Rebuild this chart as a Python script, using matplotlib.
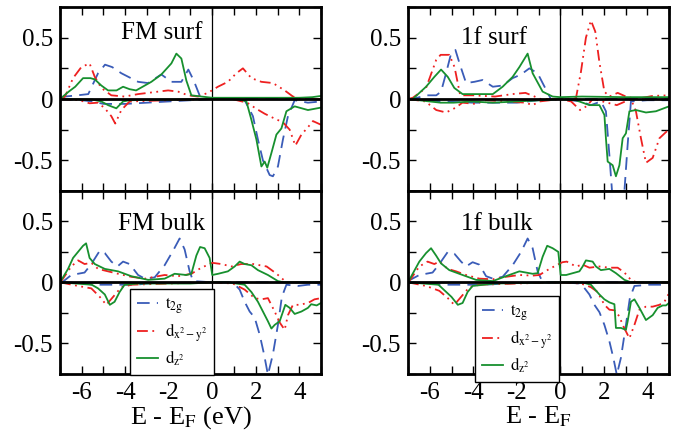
import numpy as np
import matplotlib
matplotlib.use("Agg")
import matplotlib.pyplot as plt
from matplotlib.ticker import MultipleLocator, FixedLocator

plt.rcParams['font.family'] = ['Liberation Serif', 'DejaVu Serif']
plt.rcParams['mathtext.fontset'] = 'stix'
plt.rcParams['axes.unicode_minus'] = False

# ---- FM surf ----
fs_t2g_up_e = [-7, -6.77, -6.2, -5.7, -5.25, -4.93, -4.6, -4.18, -3.41, -2.95, -2.34, -1.88, -1.42, -1.1, -0.85, -0.56, -0.35, 0, 1, 2, 3, 4, 5]
fs_t2g_up_v = [0, 0.02, 0.03, 0.04, 0.21, 0.28, 0.26, 0.21, 0.14, 0.13, 0.2, 0.14, 0.14, 0.24, 0.15, 0.02, 0.0, 0.0, 0.0, 0.0, 0.0, 0.0, 0.0]
fs_t2g_dn_e = [-7, -6, -5.5, -5, -4, -3, -2, -1, 0, 0.8, 1.49, 1.87, 2.1, 2.33, 2.64, 2.79, 3.02, 3.25, 3.48, 3.79, 4.4, 5]
fs_t2g_dn_v = [0, -0.01, -0.02, -0.04, -0.04, -0.03, -0.02, -0.01, 0, 0, -0.01, -0.14, -0.33, -0.5, -0.62, -0.63, -0.55, -0.33, -0.14, -0.01, -0.03, -0.02]
fs_x2_up_e = [-7, -6.77, -6.4, -6.02, -5.64, -5.4, -5.1, -4.64, -4.03, -3.41, -2.49, -2.03, -1.57, -1.11, -0.66, -0.2, 0.26, 0.72, 1.11, 1.41, 1.8, 2.26, 2.79, 3.33, 3.71, 4.2, 5]
fs_x2_up_v = [0, 0.02, 0.17, 0.26, 0.29, 0.18, 0.09, 0.03, 0.02, 0.04, 0.06, 0.07, 0.06, 0.03, 0.02, 0.05, 0.1, 0.14, 0.21, 0.25, 0.17, 0.14, 0.13, 0.07, 0.02, 0.0, 0.0]
fs_x2_dn_e = [-7, -6.1, -5.64, -5.25, -4.94, -4.64, -4.46, -4.18, -3.8, -2, 0, 0.9, 1.6, 2.03, 2.41, 2.87, 3.25, 3.56, 3.82, 4.1, 4.4, 4.63, 5]
fs_x2_dn_v = [0, -0.01, -0.035, -0.03, -0.076, -0.14, -0.2, -0.09, -0.02, -0.01, 0, 0, -0.03, -0.08, -0.12, -0.16, -0.19, -0.25, -0.38, -0.29, -0.23, -0.18, -0.21]
fs_z2_up_e = [-7, -6.6, -6.3, -5.94, -5.6, -5.4, -5.1, -4.79, -4.4, -4.1, -3.8, -3.5, -2.8, -2.34, -1.88, -1.65, -1.42, -1.19, -0.96, -0.5, 0, 2, 4, 4.6, 5]
fs_z2_up_v = [0, 0.06, 0.1, 0.17, 0.17, 0.16, 0.11, 0.07, 0.07, 0.1, 0.08, 0.07, 0.14, 0.2, 0.29, 0.37, 0.33, 0.15, 0.03, 0.02, 0.01, 0.01, 0.01, 0.015, 0.025]
fs_z2_dn_e = [-7, -5.5, -5.1, -4.79, -4.41, -4.1, -3.8, -2, 0, 1.2, 1.57, 1.8, 2.03, 2.26, 2.41, 2.53, 2.72, 2.95, 3.18, 3.41, 3.79, 4.4, 5]
fs_z2_dn_v = [0, -0.005, -0.02, -0.05, -0.076, -0.02, -0.01, -0.005, 0, 0, -0.02, -0.17, -0.33, -0.55, -0.51, -0.56, -0.44, -0.29, -0.24, -0.10, -0.06, -0.09, -0.07]

# ---- 1f surf ----
xs_t2g_up_e = [-7, -6.78, -6.17, -5.7, -5.48, -5.25, -5.02, -4.82, -4.63, -4.33, -3.95, -3.57, -3.1, -2.65, -2.19, -1.8, -1.42, -1.04, -0.81, -0.43, 0, 2, 5]
xs_t2g_up_v = [0, 0.0, 0.03, 0.03, 0.06, 0.21, 0.37, 0.4, 0.29, 0.13, 0.14, 0.155, 0.1, 0.11, 0.17, 0.2, 0.25, 0.21, 0.13, 0.0, 0.0, 0.0, 0.0]
xs_t2g_dn_e = [-7, -6, -5.5, -4, -2, -1, 0, 0.95, 1.41, 1.87, 2.1, 2.26, 2.38, 2.65, 2.95, 3.1, 3.25, 4, 5]
xs_t2g_dn_v = [0, -0.01, -0.02, -0.03, -0.03, -0.01, 0, -0.02, -0.05, -0.02, -0.1, -0.46, -0.75, -0.95, -0.75, -0.37, -0.02, -0.01, -0.01]
xs_x2_up_e = [-7, -6.78, -6.17, -5.7, -5.5, -5.1, -4.86, -4.6, -4.0, -3.0, -2.2, -1.6, -0.9, 0, 0.72, 0.95, 1.18, 1.41, 1.61, 1.8, 2.03, 2.26, 2.64, 3.02, 3.48, 4.25, 5]
xs_x2_up_v = [0, 0.01, 0.09, 0.32, 0.36, 0.36, 0.26, 0.03, 0.03, 0.02, 0.04, 0.05, 0.0, 0.0, 0.005, 0.22, 0.5, 0.64, 0.55, 0.3, 0.06, 0.02, 0.05, 0.02, 0.0, 0.025, 0.03]
xs_x2_dn_e = [-7, -6.2, -5.7, -5.25, -4.8, -4.5, -3.9, -3.4, -2.5, -1.6, -1.27, -0.95, 0, 0.5, 0.91, 1.2, 1.5, 2.6, 3.25, 3.48, 3.71, 3.94, 4.25, 4.56, 4.86, 5]
xs_x2_dn_v = [0, -0.02, -0.09, -0.11, -0.07, -0.03, -0.04, -0.01, -0.02, -0.03, -0.05, -0.02, 0, -0.02, -0.09, -0.06, 0.0, -0.05, 0.0, -0.1, -0.32, -0.52, -0.48, -0.32, -0.27, -0.25]
xs_z2_up_e = [-7, -6.78, -6.17, -5.79, -5.48, -5.17, -4.87, -4.49, -3.8, -3.1, -2.65, -2.19, -1.88, -1.5, -1.27, -0.81, -0.35, 0, 1, 3, 5]
xs_z2_up_v = [0, 0.0, 0.1, 0.18, 0.24, 0.18, 0.09, 0.04, 0.04, 0.04, 0.1, 0.18, 0.26, 0.37, 0.21, 0.06, 0.02, 0.015, 0.02, 0.015, 0.015]
xs_z2_dn_e = [-7, -6.5, -5.5, -4.9, -4.1, -3.1, -2.0, -0.9, 0, 0.72, 1.34, 1.8, 2.03, 2.1, 2.18, 2.41, 2.56, 2.72, 2.87, 3.02, 3.18, 3.48, 3.94, 4.4, 5]
xs_z2_dn_v = [0, -0.01, -0.03, -0.03, -0.02, -0.03, -0.02, -0.01, 0, -0.01, -0.05, -0.05, -0.13, -0.32, -0.51, -0.54, -0.63, -0.54, -0.32, -0.28, -0.1, -0.09, -0.11, -0.1, -0.06]

# ---- FM bulk ----
fb_t2g_up_e = [-7, -6.9, -6.48, -5.87, -5.56, -5.17, -4.94, -4.64, -4.36, -4.1, -3.8, -3.41, -3.1, -2.65, -2.19, -1.8, -1.5, -1.27, -1.04, -0.88, 0, 5]
fb_t2g_up_v = [0, 0.0, 0.06, 0.08, 0.15, 0.26, 0.24, 0.17, 0.13, 0.17, 0.15, 0.06, 0.03, 0.04, 0.14, 0.26, 0.36, 0.27, 0.09, 0.01, 0.0, 0.0]
fb_t2g_dn_e = [-7, -6, -5.5, -4.5, -3.5, -3, -2, 0, 0.95, 1.26, 1.49, 1.72, 1.95, 2.18, 2.38, 2.56, 2.79, 3.02, 3.2, 3.41, 3.94, 4.4, 5]
fb_t2g_dn_v = [0, -0.005, -0.02, -0.02, -0.02, -0.01, -0.005, 0, 0, -0.06, -0.16, -0.24, -0.29, -0.43, -0.59, -0.76, -0.59, -0.35, -0.12, -0.02, -0.03, -0.02, -0.02]
fb_x2_up_e = [-7, -6.9, -6.48, -6.17, -5.87, -5.56, -5.25, -4.79, -4.33, -3.72, -3.1, -2.19, -1.57, -0.96, -0.5, -0.12, 0, 0.42, 0.88, 1.33, 1.89, 2.5, 2.96, 3.28, 3.5, 5]
fb_x2_up_v = [0, 0.02, 0.13, 0.18, 0.15, 0.16, 0.11, 0.09, 0.07, 0.045, 0.03, 0.06, 0.05, 0.07, 0.12, 0.15, 0.16, 0.15, 0.13, 0.15, 0.15, 0.13, 0.07, 0.02, 0.0, 0.0]
fb_x2_dn_e = [-7, -6.17, -5.56, -5.17, -4.87, -4.56, -4.18, -3.72, -2, 0, 0.95, 1.49, 1.95, 2.26, 2.56, 2.87, 3.1, 3.33, 3.48, 3.71, 4.0, 4.4, 4.7, 5]
fb_x2_dn_v = [0, -0.03, -0.05, -0.12, -0.185, -0.12, -0.04, -0.02, -0.01, 0, -0.01, -0.06, -0.13, -0.14, -0.13, -0.24, -0.33, -0.39, -0.27, -0.185, -0.185, -0.17, -0.14, -0.13]
fb_z2_up_e = [-7, -6.63, -6.4, -6.17, -5.94, -5.8, -5.64, -5.4, -4.94, -4.33, -3.72, -2.95, -2.19, -1.73, -1.19, -0.96, -0.73, -0.56, -0.35, -0.12, 0, 0.27, 0.72, 1.03, 1.26, 1.49, 1.8, 2.1, 2.56, 3.02, 3.3, 5]
fb_z2_up_v = [0, 0.11, 0.2, 0.25, 0.3, 0.32, 0.2, 0.15, 0.11, 0.09, 0.05, 0.02, 0.03, 0.07, 0.06, 0.07, 0.22, 0.29, 0.28, 0.2, 0.06, 0.07, 0.09, 0.13, 0.17, 0.15, 0.14, 0.1, 0.06, 0.01, 0.0, 0.0]
fb_z2_dn_e = [-7, -5.54, -5.25, -4.94, -4.71, -4.49, -4.26, -4.03, -3.4, -1, 0, 0.72, 1.49, 1.8, 2.1, 2.33, 2.56, 2.72, 2.87, 3.1, 3.36, 3.56, 3.79, 4.1, 4.4, 4.55, 4.8, 5]
fb_z2_dn_v = [0, -0.02, -0.05, -0.1, -0.185, -0.16, -0.08, -0.02, -0.01, -0.01, 0, 0, -0.02, -0.08, -0.16, -0.24, -0.32, -0.38, -0.35, -0.32, -0.185, -0.21, -0.26, -0.24, -0.21, -0.18, -0.19, -0.17]

# ---- 1f bulk ----
xb_t2g_up_e = [-7, -6.9, -6.48, -5.87, -5.56, -5.17, -4.87, -4.56, -4.33, -4.03, -3.72, -3.41, -3.1, -2.65, -2.19, -1.8, -1.5, -1.27, -1.04, -0.81, 0, 5]
xb_t2g_up_v = [0, 0.02, 0.06, 0.08, 0.15, 0.25, 0.235, 0.17, 0.13, 0.165, 0.145, 0.05, 0.03, 0.045, 0.14, 0.25, 0.36, 0.28, 0.09, 0.0, 0.0, 0.0]
xb_t2g_dn_e = [-7, -6, -5.5, -4.5, -3.5, -2, 0, 0.95, 1.34, 1.57, 1.8, 2.03, 2.26, 2.44, 2.6, 2.79, 3.02, 3.2, 3.41, 4.1, 5]
xb_t2g_dn_v = [0, -0.005, -0.02, -0.02, -0.02, -0.005, 0, -0.01, -0.1, -0.185, -0.245, -0.35, -0.485, -0.62, -0.76, -0.62, -0.35, -0.13, -0.03, -0.02, -0.02]
xb_x2_up_e = [-7, -6.9, -6.48, -6.1, -5.79, -5.56, -5.17, -4.79, -4.33, -3.72, -3.1, -2.5, -1.88, -1.27, -0.96, -0.5, -0.12, 0.1, 0.3, 0.72, 1.03, 1.34, 1.8, 2.26, 2.64, 2.95, 3.25, 3.5, 5]
xb_x2_up_v = [0, 0.02, 0.13, 0.17, 0.15, 0.17, 0.11, 0.09, 0.06, 0.03, 0.025, 0.045, 0.06, 0.055, 0.06, 0.11, 0.145, 0.165, 0.17, 0.13, 0.145, 0.12, 0.13, 0.12, 0.12, 0.08, 0.02, 0.0, 0.0]
xb_x2_dn_e = [-7, -6.17, -5.56, -5.17, -4.87, -4.56, -4.18, -3.72, -2, 0, 0.95, 1.41, 1.72, 2.03, 2.26, 2.49, 2.72, 2.87, 3.18, 3.41, 3.64, 3.94, 4.25, 4.56, 4.79, 5]
xb_x2_dn_v = [0, -0.03, -0.07, -0.13, -0.185, -0.12, -0.04, -0.02, -0.01, 0, -0.01, -0.04, -0.08, -0.185, -0.225, -0.23, -0.28, -0.35, -0.46, -0.35, -0.225, -0.2, -0.2, -0.185, -0.16, -0.09]
xb_z2_up_e = [-7, -6.48, -6.17, -5.94, -5.71, -5.48, -5.1, -4.49, -3.87, -3.1, -2.5, -1.88, -1.27, -1.04, -0.81, -0.6, -0.35, -0.09, 0.02, 0.27, 0.88, 1.03, 1.18, 1.49, 1.64, 1.87, 2.26, 2.56, 2.95, 3.25, 5]
xb_z2_up_v = [0, 0.17, 0.24, 0.28, 0.22, 0.155, 0.1, 0.06, 0.02, 0.01, 0.05, 0.09, 0.07, 0.075, 0.21, 0.3, 0.28, 0.25, 0.06, 0.06, 0.09, 0.13, 0.18, 0.17, 0.13, 0.1, 0.11, 0.075, 0.02, 0.0, 0.0]
xb_z2_dn_e = [-7, -5.6, -5.3, -5.0, -4.71, -4.49, -4.26, -4.03, -3, 0, 1.0, 1.41, 1.8, 2.03, 2.26, 2.49, 2.56, 2.79, 3.02, 3.1, 3.25, 3.41, 3.64, 3.94, 4.25, 4.48, 4.71, 4.86, 5]
xb_z2_dn_v = [0, -0.02, -0.07, -0.12, -0.185, -0.17, -0.08, -0.03, -0.01, 0, 0, -0.02, -0.1, -0.14, -0.165, -0.18, -0.375, -0.375, -0.39, -0.32, -0.16, -0.14, -0.21, -0.31, -0.27, -0.21, -0.19, -0.19, -0.17]

panel_titles = ["FM surf", "1f surf", "FM bulk", "1f bulk"]
legend_labels = [r"$\mathrm{t_{2g}}$", r"$\mathrm{d_{x^2 - y^2}}$", r"$\mathrm{d_{z^2}}$"]
xtick_vals = [-6, -4, -2, 0, 2, 4]
xtick_text = ["-6", "-4", "-2", "0", "2", "4"]
ytick_vals = [-0.5, 0, 0.5]
ytick_text = ["-0.5", "0", "0.5"]

blue = "#3a5cb8"
red = "#ee2020"
green = "#17902e"
styles = [
    dict(color=blue, ls=(0, (7, 4)), lw=1.3),
    dict(color=red, ls=(0, (6, 2.5, 1, 2.5, 1, 2.5)), lw=1.3),
    dict(color=green, ls="-", lw=1.3),
]

panels = [
    [(fs_t2g_up_e, fs_t2g_up_v, fs_t2g_dn_e, fs_t2g_dn_v),
     (fs_x2_up_e, fs_x2_up_v, fs_x2_dn_e, fs_x2_dn_v),
     (fs_z2_up_e, fs_z2_up_v, fs_z2_dn_e, fs_z2_dn_v)],
    [(xs_t2g_up_e, xs_t2g_up_v, xs_t2g_dn_e, xs_t2g_dn_v),
     (xs_x2_up_e, xs_x2_up_v, xs_x2_dn_e, xs_x2_dn_v),
     (xs_z2_up_e, xs_z2_up_v, xs_z2_dn_e, xs_z2_dn_v)],
    [(fb_t2g_up_e, fb_t2g_up_v, fb_t2g_dn_e, fb_t2g_dn_v),
     (fb_x2_up_e, fb_x2_up_v, fb_x2_dn_e, fb_x2_dn_v),
     (fb_z2_up_e, fb_z2_up_v, fb_z2_dn_e, fb_z2_dn_v)],
    [(xb_t2g_up_e, xb_t2g_up_v, xb_t2g_dn_e, xb_t2g_dn_v),
     (xb_x2_up_e, xb_x2_up_v, xb_x2_dn_e, xb_x2_dn_v),
     (xb_z2_up_e, xb_z2_up_v, xb_z2_dn_e, xb_z2_dn_v)],
]

fig = plt.figure(figsize=(6.76, 4.33), dpi=100)
W, H = 676.0, 433.0
lefts = [60 / W, 408 / W]
width = 261 / W
rects = [
    (lefts[0], 1 - 191 / H, width, 184 / H),
    (lefts[1], 1 - 191 / H, width, 184 / H),
    (lefts[0], 1 - 373.6 / H, width, 182.6 / H),
    (lefts[1], 1 - 373.6 / H, width, 182.6 / H),
]
title_pos = [(0.39, 0.86), (0.33, 0.83), (0.39, 0.82), (0.34, 0.82)]
legend_pos = [(0.268, 0.463), (0.257, 0.425)]
serif = 'Liberation Serif'

for k in range(4):
    ax = fig.add_axes(rects[k])
    for s, (ue, uv, de, dv) in enumerate(panels[k]):
        ax.plot(ue, uv, label=legend_labels[s], **styles[s])
        ax.plot(de, dv, **styles[s])
    ax.axhline(0, color="black", lw=2.0, zorder=5)
    ax.axvline(0, color="black", lw=0.9, zorder=1)
    ax.set_xlim(-7, 5)
    ax.set_ylim(-0.75, 0.75)
    ax.xaxis.set_major_locator(FixedLocator(xtick_vals))
    ax.xaxis.set_minor_locator(MultipleLocator(1))
    ax.yaxis.set_major_locator(FixedLocator(ytick_vals))
    ax.yaxis.set_minor_locator(MultipleLocator(0.25))
    ax.set_yticklabels(ytick_text, fontfamily=serif, fontsize=18)
    ax.tick_params(which="both", direction="in", top=True, right=True,
                   length=6, width=1.0, pad=5)
    ax.tick_params(axis="x", pad=6)
    for sp in ax.spines.values():
        sp.set_linewidth(2.0)
    if k < 2:
        ax.tick_params(labelbottom=False)
    else:
        ax.set_xticklabels(xtick_text, fontfamily=serif, fontsize=18)
        leg = ax.legend(loc="upper left", bbox_to_anchor=legend_pos[k - 2],
                        fontsize=12, frameon=True, fancybox=False, edgecolor="black",
                        framealpha=1, handlelength=1.3, labelspacing=0.3,
                        borderpad=0.4, handletextpad=0.4, borderaxespad=0)
        leg.get_frame().set_linewidth(1.0)
    ax.text(title_pos[k][0], title_pos[k][1], panel_titles[k], transform=ax.transAxes,
            ha="center", va="center", fontsize=18, fontfamily=serif)
    if k == 2:
        ax.set_xlabel(r"E - E$_\mathrm{F}$ (eV)", fontsize=19, labelpad=0, fontfamily=serif)
    if k == 3:
        ax.set_xlabel(r"E - E$_\mathrm{F}$", fontsize=19, labelpad=0, fontfamily=serif)

fig.savefig("out.png", dpi=100)
